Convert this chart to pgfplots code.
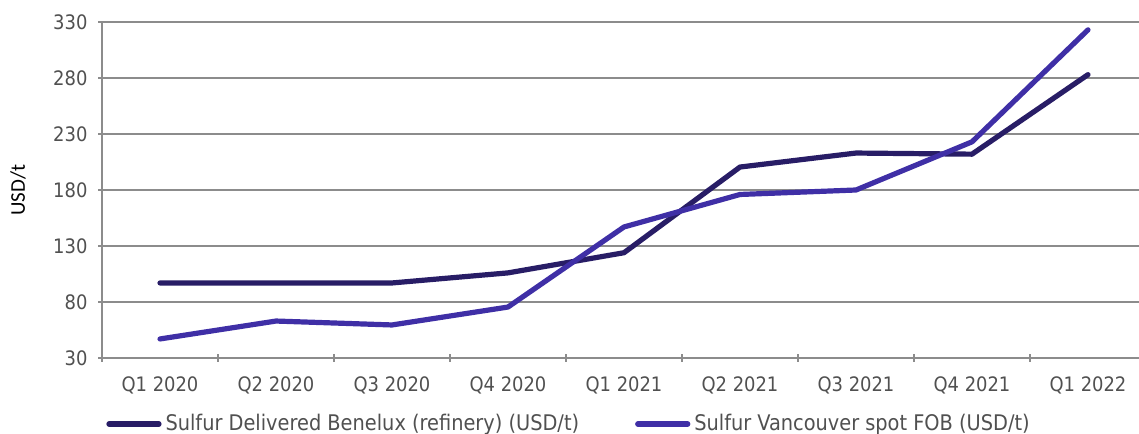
\documentclass[border=0pt]{standalone}
\usepackage{fontspec}
\setmainfont{DejaVu Sans Condensed}
\newfontfamily\labelfont{Carlito}
\usepackage{pgfplots}
\pgfplotsset{compat=1.18}

\definecolor{benelux}{HTML}{281D66}
\definecolor{vancouver}{HTML}{3F2FA6}
\definecolor{gridgray}{HTML}{8C8C8C}
\definecolor{txtgray}{HTML}{505050}

\begin{document}
\begin{tikzpicture}
\begin{axis}[
  at={(0,0)}, anchor=south west,
  scale only axis,
  width=522bp, height=168bp,
  xmin=-0.5, xmax=8.5,
  ymin=30, ymax=330,
  ytick={30,80,...,330},
  xtick={0,...,8},
  xticklabels={Q1 2020,Q2 2020,Q3 2020,Q4 2020,Q1 2021,Q2 2021,Q3 2021,Q4 2021,Q1 2022},
  minor xtick={-0.5,0.5,...,8.5},
  major x tick style={draw=none},
  tick align=outside,
  major tick length=3.5bp,
  minor tick length=3.5bp,
  tick style={gridgray, line width=1bp},
  axis x line=bottom, axis y line=left,
  axis line style={gridgray, line width=1bp, -},
  ymajorgrids,
  major grid style={gridgray, line width=1bp},
  ticklabel style={font=\fontsize{10}{12}\selectfont, text=txtgray},
  /pgf/number format/assume math mode=true,
  xticklabel style={yshift=-4bp},
  yticklabel style={xshift=-2bp},
  ylabel={USD/t},
  ylabel style={font=\labelfont\fontsize{10.5}{12}\selectfont, at={(axis description cs:0,0.5)}, anchor=center, xshift=0bp, yshift=42bp},
  legend columns=2,
  legend style={at={(axis description cs:0,0)}, anchor=north west, xshift=-1bp, yshift=-24bp,
    draw=none, fill=none, font=\fontsize{10.8}{12}\selectfont, text=txtgray,
    /tikz/every even column/.append style={column sep=26bp}},
  legend image code/.code={\draw[#1, line cap=round] (0bp,0bp) -- (25bp,0bp);},
  every axis plot/.append style={line width=2.6bp, line join=round, line cap=round},
  clip=false,
]
\addplot[benelux] coordinates {
  (0,97) (1,97) (2,97) (3,106) (4,124) (5,200.5) (6,213) (7,212) (8,283)
};
\addlegendentry{Sulfur Delivered Benelux (refinery) (USD/t)}
\addplot[vancouver] coordinates {
  (0,47) (1,63) (2,59.5) (3,75.5) (4,147) (5,176) (6,180) (7,223) (8,323)
};
\addlegendentry{Sulfur Vancouver spot FOB (USD/t)}
\end{axis}
\pgfresetboundingbox
\useasboundingbox (-51bp,-38bp) rectangle (518.5bp,179bp);
\end{tikzpicture}
\end{document}
